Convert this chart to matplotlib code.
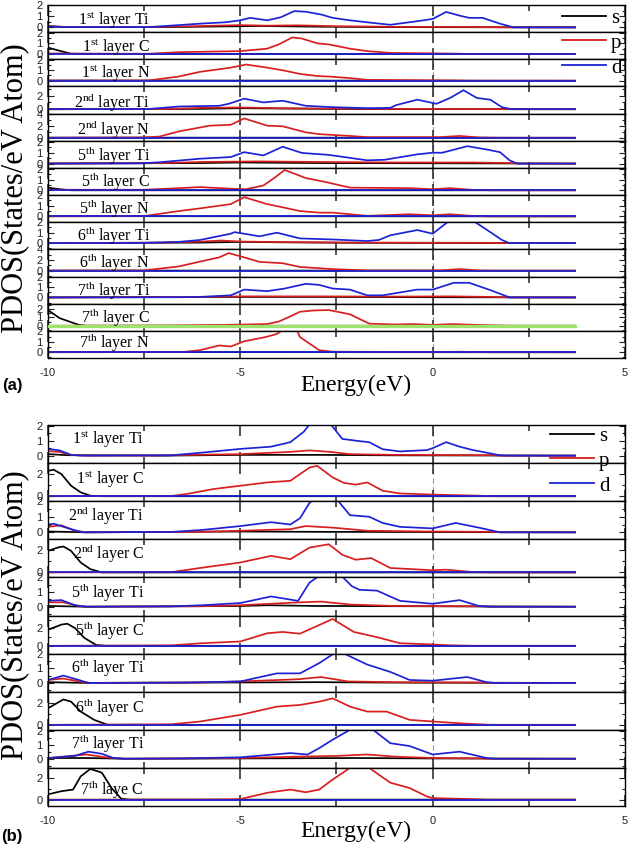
import matplotlib
matplotlib.use('Agg')
import matplotlib.pyplot as plt
from matplotlib.lines import Line2D
from matplotlib.ticker import MultipleLocator

plt.rcParams['font.family'] = 'Liberation Sans'
plt.rcParams['mathtext.fontset'] = 'custom'
plt.rcParams['mathtext.rm'] = 'Liberation Serif'
plt.rcParams['axes.unicode_minus'] = False

# ---------------- data: (energy eV, PDOS) knots ----------------
flat = [(-10, 0), (3.7, 0)]

# panel (a)
a1_s = [(-10, 0.08), (-9.5, 0.02), (-7, 0.02), (-5.5, 0.08), (-4.5, 0.12), (-3, 0.06), (-1, 0.02), (3.7, 0)]
a1_p = [(-10, 0.12), (-9.5, 0.03), (-7.5, 0.02), (-6, 0.12), (-5, 0.2), (-4.3, 0.15), (-3.5, 0.18), (-2.5, 0.1),
        (-1, 0.05), (1, 0.03), (2, 0), (3.7, 0)]
a1_d = [(-10, 0.1), (-9.6, 0.02), (-7.4, 0.02), (-6.6, 0.2), (-6.05, 0.33), (-5.4, 0.45), (-5.0, 0.63), (-4.75, 0.85),
        (-4.3, 0.63), (-3.95, 0.9), (-3.6, 1.45), (-3.3, 1.4), (-2.9, 1.15), (-2.6, 0.85), (-2.2, 0.65), (-1.7, 0.45),
        (-1.1, 0.23), (-0.4, 0.55), (0, 0.75), (0.35, 1.38), (0.7, 1.05), (0.95, 0.85), (1.3, 0.85), (1.75, 0.33),
        (2.1, 0), (3.7, 0)]

a2_s = [(-10, 0.6), (-9.8, 0.4), (-9.4, 0.02), (-9, 0), (3.7, 0)]
a2_p = [(-10, 0.05), (-7.4, 0.02), (-6.6, 0.17), (-5.0, 0.27), (-4.3, 0.5), (-4.0, 0.9), (-3.65, 1.55), (-3.4, 1.45),
        (-3.0, 1.0), (-2.7, 0.9), (-2.15, 0.5), (-1.7, 0.27), (-1.1, 0.1), (0.5, 0.04), (1, 0), (3.7, 0)]
a2_d = flat

a3_s = [(-10, 0.02), (3.7, 0)]
a3_p = [(-10, 0), (-7.4, 0.02), (-6.6, 0.4), (-6.05, 0.85), (-5.25, 1.25), (-4.85, 1.55), (-4.3, 1.25), (-3.9, 1.0),
        (-3.45, 0.65), (-3.0, 0.45), (-2.7, 0.4), (-2.15, 0.25), (-1.7, 0.08), (0.5, 0.03), (1, 0), (3.7, 0)]
a3_d = flat

a4_s = [(-10, 0), (-6, 0.05), (-5, 0.15), (-4, 0.1), (-2, 0.03), (3.7, 0)]
a4_p = [(-10, 0), (-7, 0.03), (-6, 0.2), (-5, 0.25), (-4, 0.15), (-3, 0.1), (-1, 0.05), (1.5, 0.02), (2, 0), (3.7, 0)]
a4_d = [(-10, 0), (-7.4, 0.02), (-6.6, 0.4), (-5.55, 0.5), (-5.3, 0.8), (-4.9, 1.55), (-4.4, 1.0), (-3.9, 1.25),
        (-3.3, 0.5), (-2.6, 0.3), (-1.7, 0.15), (-1.1, 0.2), (-0.95, 0.6), (-0.4, 1.4), (0.1, 0.8), (0.45, 1.65),
        (0.8, 2.8), (1.15, 1.65), (1.5, 1.4), (1.8, 0.3), (2.05, 0), (3.7, 0)]

a5_s = [(-10, 0.02), (3.7, 0)]
a5_p = [(-10, 0), (-7.5, 0.05), (-7.1, 0.2), (-6.6, 1.05), (-5.8, 2.0), (-5.25, 2.15), (-4.9, 3.2), (-4.3, 2.0),
        (-3.9, 1.9), (-3.3, 0.9), (-2.95, 0.6), (-2.15, 0.3), (-1.7, 0.1), (0.2, 0.1), (0.7, 0.3), (1.2, 0.05),
        (1.8, 0), (3.7, 0)]
a5_d = flat

a6_s = [(-10, 0), (-6, 0.05), (-5, 0.1), (-3, 0.05), (3.7, 0)]
a6_p = [(-10, 0.02), (-7, 0.05), (-6, 0.15), (-4.5, 0.2), (-3, 0.15), (-1, 0.1), (1, 0.1), (2, 0.05), (2.3, 0), (3.7, 0)]
a6_d = [(-10, 0), (-7.6, 0.02), (-7.1, 0.12), (-6.05, 0.45), (-5.25, 0.6), (-4.9, 1.05), (-4.4, 0.75), (-3.9, 1.55),
        (-3.4, 0.98), (-2.7, 0.8), (-2.3, 0.6), (-1.7, 0.3), (-1.25, 0.35), (-0.4, 0.85), (0, 1.0), (0.25, 1.0),
        (0.9, 1.6), (1.4, 1.3), (1.75, 1.05), (2.0, 0.3), (2.2, 0), (3.7, 0)]

a7_s = [(-10, 0.25), (-9.7, 0.1), (-9.4, 0), (3.7, 0)]
a7_p = [(-10, 0.05), (-7.5, 0.05), (-6.6, 0.2), (-6.05, 0.3), (-5.25, 0.15), (-4.85, 0.1), (-4.4, 0.45), (-4.1, 1.2),
        (-3.85, 1.9), (-3.55, 1.5), (-3.3, 1.15), (-2.95, 0.9), (-2.75, 0.75), (-2.15, 0.25), (-0.6, 0.2), (0, 0.1),
        (0.45, 0.2), (1.0, 0.05), (1.5, 0), (3.7, 0)]
a7_d = flat

a8_s = [(-10, 0.02), (3.7, 0)]
a8_p = [(-10, 0), (-7.5, 0.03), (-6.6, 0.5), (-6.05, 0.75), (-5.25, 1.15), (-4.9, 1.8), (-4.3, 1.15), (-3.9, 0.85),
        (-3.45, 0.5), (-2.95, 0.35), (-2.6, 0.35), (-1.7, 0.05), (-0.6, 0.2), (0, 0.1), (0.45, 0.2), (1.0, 0.05),
        (1.5, 0), (3.7, 0)]
a8_d = flat

a9_s = [(-10, 0), (-6, 0.05), (-5, 0.12), (-4, 0.08), (-2, 0.03), (3.7, 0)]
a9_p = [(-10, 0), (-7, 0.05), (-6, 0.15), (-5.5, 0.25), (-5, 0.15), (-4, 0.1), (-2, 0.05), (1.5, 0.03), (2, 0), (3.7, 0)]
a9_d = [(-10, 0), (-7.5, 0.02), (-6.6, 0.12), (-6.05, 0.3), (-5.25, 0.9), (-5.15, 1.05), (-4.5, 0.65), (-4.05, 1.0),
        (-3.45, 0.45), (-2.6, 0.35), (-1.7, 0.2), (-1.4, 0.3), (-1.1, 0.75), (-0.4, 1.25), (0, 0.9), (0.35, 1.9),
        (0.6, 2.6), (0.9, 2.6), (1.15, 1.9), (1.5, 1.05), (1.8, 0.3), (2.0, 0), (3.7, 0)]

a10_s = [(-10, 0.02), (3.7, 0)]
a10_p = [(-10, 0), (-7.5, 0.05), (-6.6, 0.8), (-6.05, 1.7), (-5.55, 2.5), (-5.3, 3.3), (-4.9, 2.5), (-4.5, 1.65),
         (-3.9, 1.4), (-3.45, 0.7), (-2.6, 0.3), (-1.7, 0.05), (0.2, 0.05), (0.7, 0.3), (1.2, 0.05), (1.5, 0), (3.7, 0)]
a10_d = flat

a11_s = [(-10, 0), (-5, 0.05), (-3, 0.05), (0, 0.02), (3.7, 0)]
a11_p = [(-10, 0), (-6, 0.05), (-5, 0.1), (-3, 0.1), (-1, 0.08), (0.5, 0.1), (1.5, 0.05), (2, 0), (3.7, 0)]
a11_d = [(-10, 0), (-6.5, 0.02), (-6.05, 0.05), (-5.25, 0.2), (-4.9, 0.75), (-4.3, 0.6), (-3.85, 0.85), (-3.3, 1.3),
         (-2.95, 1.2), (-2.6, 0.85), (-2.15, 0.75), (-1.7, 0.2), (-1.3, 0.2), (-0.4, 0.75), (0, 0.75), (0.55, 1.4),
         (0.95, 1.4), (1.5, 0.7), (2.0, 0), (3.7, 0)]

a12_s = [(-10, 1.85), (-9.7, 0.9), (-9.2, 0.1), (-9, 0), (3.7, 0)]
a12_p = [(-10, 0), (-7, 0.03), (-5.5, 0.1), (-4.3, 0.2), (-4.0, 0.5), (-3.7, 1.1), (-3.45, 1.65), (-3.1, 1.8),
         (-2.7, 1.85), (-2.15, 1.35), (-1.65, 0.25), (-1.0, 0.15), (-0.5, 0.2), (0, 0.1), (0.5, 0.2), (1.5, 0.05),
         (2, 0), (3.7, 0)]
a12_d = flat

a13_s = [(-10, 0.02), (3.7, 0)]
a13_p = [(-10, 0), (-6.5, 0.02), (-6.05, 0.2), (-5.55, 0.65), (-5.25, 0.55), (-4.9, 1.05), (-4.35, 1.45),
         (-4.05, 1.75), (-3.75, 2.5), (-3.55, 2.3), (-3.45, 1.45), (-2.95, 0.2), (-2.6, 0.05), (0.2, 0.03),
         (0.7, 0.05), (1.5, 0), (3.7, 0)]
a13_d = flat

# panel (b)
b1_s = [(-10, 0.1), (-9.5, 0.03), (-7, 0), (-5, 0.05), (-3, 0.05), (-1, 0.02), (3.7, 0)]
b1_p = [(-10, 0.3), (-9.7, 0.25), (-9.4, 0.05), (-9, 0), (-7, 0.02), (-5, 0.1), (-3.7, 0.25), (-3.2, 0.35),
        (-2.65, 0.25), (-2.15, 0.1), (-1, 0.05), (1.5, 0.03), (1.8, 0), (3.7, 0)]
b1_d = [(-10, 0.45), (-9.7, 0.35), (-9.4, 0.05), (-9.15, 0), (-6.8, 0.02), (-6, 0.2), (-5.0, 0.45), (-4.2, 0.6),
        (-3.7, 0.9), (-3.35, 1.6), (-3.2, 2.1), (-2.95, 2.6), (-2.65, 2.1), (-2.35, 1.12), (-1.9, 0.97),
        (-1.65, 0.9), (-1.3, 0.43), (-0.85, 0.28), (-0.15, 0.37), (0, 0.5), (0.35, 0.9), (0.7, 0.6), (1.0, 0.4),
        (1.75, 0.02), (2.0, 0), (3.7, 0)]

b2_s = [(-10, 2.3), (-9.85, 2.4), (-9.65, 2.0), (-9.4, 0.95), (-9.15, 0.35), (-8.9, 0.05), (-8.6, 0), (3.7, 0)]
b2_p = [(-10, 0), (-6.8, 0.02), (-6.4, 0.2), (-5.7, 0.65), (-5.0, 0.95), (-4.3, 1.25), (-3.7, 1.4), (-3.45, 2.0),
        (-3.2, 2.6), (-3.0, 2.75), (-2.6, 1.7), (-2.3, 1.2), (-2.0, 1.05), (-1.7, 1.25), (-1.3, 0.5), (-0.85, 0.25),
        (0, 0.15), (1.2, 0.05), (1.6, 0), (3.7, 0)]
b2_d = flat

b3_s = [(-10, 0.05), (-9, 0), (-5, 0.05), (-3, 0.03), (3.7, 0)]
b3_p = [(-10, 0.35), (-9.65, 0.45), (-9.3, 0.1), (-9, 0), (-6, 0.03), (-5, 0.1), (-3.7, 0.2), (-3.3, 0.4),
        (-2.6, 0.3), (-1.7, 0.1), (0, 0.05), (1.5, 0.03), (1.8, 0), (3.7, 0)]
b3_d = [(-10, 0.5), (-9.85, 0.55), (-9.4, 0.2), (-9.1, 0), (-6.8, 0.02), (-6, 0.15), (-5.0, 0.4), (-4.2, 0.65),
        (-3.7, 0.5), (-3.45, 0.9), (-3.2, 1.9), (-3.0, 2.3), (-2.75, 2.4), (-2.45, 2.0), (-2.15, 1.1), (-1.65, 1.0),
        (-1.3, 0.6), (-0.85, 0.35), (0, 0.25), (0.6, 0.6), (1.2, 0.3), (1.75, 0), (3.7, 0)]

b4_s = [(-10, 1.95), (-9.75, 2.25), (-9.6, 2.35), (-9.4, 1.95), (-9.15, 0.9), (-8.9, 0.3), (-8.6, 0), (3.7, 0)]
b4_p = [(-10, 0), (-6.8, 0.02), (-6.05, 0.4), (-5.0, 0.9), (-4.2, 1.5), (-3.7, 1.2), (-3.2, 2.25), (-2.7, 2.55),
        (-2.35, 1.6), (-2.0, 1.15), (-1.6, 1.3), (-1.1, 0.4), (0, 0.2), (0.35, 0.25), (1.0, 0.05), (1.5, 0), (3.7, 0)]
b4_d = flat

b5_s = [(-10, 0.05), (-9, 0), (-5, 0.05), (-4.3, 0.1), (-3, 0.05), (3.7, 0)]
b5_p = [(-10, 0.3), (-9.6, 0.3), (-9.2, 0.05), (-9, 0), (-6, 0.03), (-5, 0.1), (-3.45, 0.3), (-2.9, 0.35),
        (-2.15, 0.15), (-1, 0.05), (1.2, 0.03), (1.5, 0), (3.7, 0)]
b5_d = [(-10, 0.4), (-9.65, 0.45), (-9.3, 0.1), (-9.0, 0), (-6.8, 0.02), (-6, 0.1), (-5.0, 0.25), (-4.2, 0.7),
        (-3.5, 0.4), (-3.2, 1.65), (-2.95, 2.1), (-2.65, 2.4), (-2.33, 2.0), (-2.1, 1.4), (-1.9, 1.15), (-1.45, 1.1),
        (-0.85, 0.4), (0, 0.2), (0.7, 0.45), (1.2, 0.05), (1.5, 0), (3.7, 0)]

b6_s = [(-10, 1.85), (-9.65, 2.45), (-9.5, 2.55), (-9.3, 2.05), (-9.05, 0.9), (-8.75, 0.1), (-8.5, 0), (3.7, 0)]
b6_p = [(-10, 0), (-6.8, 0.05), (-6, 0.3), (-5.0, 0.5), (-4.3, 1.45), (-3.9, 1.6), (-3.45, 1.4), (-3.0, 2.3),
        (-2.6, 3.1), (-2.05, 1.6), (-1.45, 1.0), (-0.85, 0.3), (0, 0.15), (0.5, 0.05), (1, 0), (3.7, 0)]
b6_d = flat

b7_s = [(-10, 0.05), (-9, 0), (-5, 0.03), (-3, 0.05), (-1, 0.02), (3.7, 0)]
b7_p = [(-10, 0.2), (-9.6, 0.3), (-9.2, 0.1), (-8.9, 0), (-6, 0.03), (-5, 0.1), (-3.5, 0.25), (-2.9, 0.4),
        (-2.2, 0.1), (-1, 0.05), (1.2, 0.03), (1.5, 0), (3.7, 0)]
b7_d = [(-10, 0.2), (-9.6, 0.5), (-9.2, 0.2), (-8.95, 0), (-6.5, 0.02), (-5, 0.1), (-4.05, 0.65), (-3.45, 0.65),
        (-2.95, 1.35), (-2.6, 1.95), (-2.45, 2.1), (-2.3, 2.0), (-1.7, 1.25), (-1.1, 0.75), (-0.6, 0.2), (0, 0.15),
        (0.9, 0.4), (1.4, 0.05), (1.6, 0), (3.7, 0)]

b8_s = [(-10, 1.5), (-9.6, 2.3), (-9.4, 2.1), (-9.15, 1.2), (-8.8, 0.45), (-8.45, 0), (3.7, 0)]
b8_p = [(-10, 0), (-6.8, 0.05), (-6.05, 0.3), (-5.0, 0.9), (-4.05, 1.65), (-3.45, 1.8), (-2.95, 2.1), (-2.6, 2.4),
        (-2.15, 1.65), (-1.7, 1.2), (-1.2, 1.2), (-0.6, 0.45), (0, 0.3), (0.9, 0.1), (1.5, 0), (3.7, 0)]
b8_d = flat

b9_s = [(-10, 0.05), (-9, 0.05), (-8, 0), (-5, 0.02), (-2, 0.05), (0, 0.02), (3.7, 0)]
b9_p = [(-10, 0.05), (-9.0, 0.3), (-8.5, 0.1), (-8, 0), (-5, 0.05), (-3.45, 0.15), (-2.5, 0.2), (-1.7, 0.3),
        (-1.0, 0.15), (0, 0.05), (1.2, 0.03), (1.5, 0), (3.7, 0)]
b9_d = [(-10, 0.05), (-9.3, 0.2), (-8.95, 0.5), (-8.6, 0.35), (-8.3, 0.05), (-8.0, 0), (-6.5, 0.02), (-5.0, 0.1),
        (-3.7, 0.4), (-3.25, 0.3), (-2.95, 0.75), (-2.6, 1.35), (-2.15, 2.05), (-1.9, 2.5), (-1.55, 2.05),
        (-1.1, 1.1), (-0.6, 0.9), (0, 0.3), (0.7, 0.5), (1.4, 0.05), (1.6, 0), (3.7, 0)]

b10_s = [(-10, 0.5), (-9.65, 0.8), (-9.35, 0.95), (-9.15, 2.2), (-8.9, 2.9), (-8.6, 2.55), (-8.35, 1.1),
         (-8.1, 0.1), (-7.9, 0), (3.7, 0)]
b10_p = [(-10, 0), (-5.5, 0.02), (-5.0, 0.05), (-4.3, 0.65), (-3.7, 0.95), (-3.3, 0.7), (-2.95, 0.95), (-2.6, 1.9),
         (-2.15, 3.0), (-1.9, 3.4), (-1.65, 3.0), (-1.1, 1.6), (-0.6, 1.1), (-0.15, 0.3), (0, 0.15), (1.0, 0.05),
         (1.5, 0), (3.7, 0)]
b10_d = flat

a_names = ['1$^{\\rm st}$ layer Ti', '1$^{\\rm st}$ layer C', '1$^{\\rm st}$ layer N',
           '2$^{\\rm nd}$ layer Ti', '2$^{\\rm nd}$ layer N', '5$^{\\rm th}$ layer Ti',
           '5$^{\\rm th}$ layer C', '5$^{\\rm th}$ layer N', '6$^{\\rm th}$ layer Ti',
           '6$^{\\rm th}$ layer N', '7$^{\\rm th}$ layer Ti', '7$^{\\rm th}$ layer C',
           '7$^{\\rm th}$ layer N']
b_names = ['1$^{\\rm st}$ layer Ti', '1$^{\\rm st}$ layer C', '2$^{\\rm nd}$ layer Ti',
           '2$^{\\rm nd}$ layer C', '5$^{\\rm th}$ layer Ti', '5$^{\\rm th}$ layer C',
           '6$^{\\rm th}$ layer Ti', '6$^{\\rm th}$ layer C', '7$^{\\rm th}$ layer Ti',
           '7$^{\\rm th}$ laye C']

a_s = [a1_s, a2_s, a3_s, a4_s, a5_s, a6_s, a7_s, a8_s, a9_s, a10_s, a11_s, a12_s, a13_s]
a_p = [a1_p, a2_p, a3_p, a4_p, a5_p, a6_p, a7_p, a8_p, a9_p, a10_p, a11_p, a12_p, a13_p]
a_d = [a1_d, a2_d, a3_d, a4_d, a5_d, a6_d, a7_d, a8_d, a9_d, a10_d, a11_d, a12_d, a13_d]
b_s = [b1_s, b2_s, b3_s, b4_s, b5_s, b6_s, b7_s, b8_s, b9_s, b10_s]
b_p = [b1_p, b2_p, b3_p, b4_p, b5_p, b6_p, b7_p, b8_p, b9_p, b10_p]
b_d = [b1_d, b2_d, b3_d, b4_d, b5_d, b6_d, b7_d, b8_d, b9_d, b10_d]

# axis ranges / tick steps per panel
a_ylim = [(-0.43, 2.0), (-0.5, 2.05), (-0.55, 2.05), (-0.65, 3.35), (-0.5, 4.0), (-0.4, 2.1), (-0.45, 2.1),
          (-0.55, 2.0), (-0.6, 2.0), (-1.1, 4.0), (-0.6, 2.0), (-0.6, 2.6), (-0.55, 2.05)]
a_ystep = [1, 1, 1, 2, 2, 1, 1, 1, 1, 2, 1, 1, 1]
b_ylim = [(-0.5, 2.05), (-0.45, 3.0), (-0.45, 2.0), (-0.45, 3.0), (-0.6, 2.0), (-0.9, 3.5), (-0.6, 2.0),
          (-0.45, 3.0), (-0.65, 2.05), (-0.6, 3.0)]
b_ystep = [1, 2, 1, 2, 1, 2, 1, 2, 1, 2]

# ---------------- styling ----------------
S_COL = 'black'
P_COL = '#d81e1e'
D_COL = '#1c22d4'
G_COL = '#9be36d'
FERMI = '#d070f0'
SERIF = 'Liberation Serif'

a_text_y = [0.26, 0.28, 0.32, 0.21, 0.22, 0.24, 0.3, 0.3, 0.3, 0.32, 0.3, 0.3, 0.35]
b_text_y = [0.49, 0.45, 0.48, 0.47, 0.47, 0.45, 0.49, 0.44, 0.49, 0.29]

W, H = 631.0, 846.0
fig = plt.figure(figsize=(6.31, 8.46), dpi=100)


def line(ax, pts, color, lw=1.25, z=2):
    e = [q[0] for q in pts]
    v = [q[1] for q in pts]
    ax.plot(e, v, color=color, lw=lw, zorder=z, solid_joinstyle='round')


def block(top, bot, s_list, p_list, d_list, names, ylims, steps, text_y, text_x, fermi_from, fermi_to, green=None):
    n = len(names)
    h = (bot - top) / n
    axs = []
    for i in range(n):
        ax = fig.add_axes([48 / W, 1 - (top + (i + 1) * h) / H, (625 - 48) / W, h / H])
        ax.set_xlim(-10, 5)
        ax.set_ylim(*ylims[i])
        if fermi_from <= i <= fermi_to:
            ax.axvline(0, color=FERMI, lw=0.8, ls=(0, (5, 3)), zorder=1.5)
        line(ax, s_list[i], S_COL)
        line(ax, p_list[i], P_COL)
        if green is not None and i == green:
            line(ax, d_list[i], G_COL, lw=2.4, z=3)
        else:
            line(ax, d_list[i], D_COL)
        ax.text(text_x, text_y[i], names[i], transform=ax.get_xaxis_transform(), ha='right', va='baseline',
                fontsize=11.5, family=SERIF)
        ax.xaxis.set_major_locator(MultipleLocator(5))
        ax.xaxis.set_minor_locator(MultipleLocator(2.5))
        ax.yaxis.set_major_locator(MultipleLocator(steps[i]))
        ax.yaxis.set_minor_locator(MultipleLocator(steps[i] / 2))
        ax.tick_params(which='both', direction='in', top=True, right=True, labelsize=8, colors='#222222')
        ax.tick_params(axis='x', which='major', length=8, width=1.1, pad=7)
        ax.tick_params(axis='x', which='minor', length=4.5, width=1.1)
        ax.tick_params(axis='y', which='major', length=4, width=0.8, pad=4)
        ax.tick_params(axis='y', which='minor', length=2.5, width=0.8)
        if i < n - 1:
            ax.tick_params(axis='x', labelbottom=False)
        for sp in ax.spines.values():
            sp.set_linewidth(1.0)
        axs.append(ax)
    return axs


block(5, 358, a_s, a_p, a_d, a_names, a_ylim, a_ystep, a_text_y, -7.35, 2, 12, green=11)
block(425, 806, b_s, b_p, b_d, b_names, b_ylim, b_ystep, b_text_y, -7.5, 0, 8)

# axis titles and panel letters
for yc in (188, 615):
    fig.text(15 / W, 1 - yc / H, 'PDOS(States/eV Atom)', rotation=90, ha='center', va='center',
             fontsize=22, family=SERIF)
for yc in (385, 831):
    fig.text(356 / W, 1 - yc / H, 'Energy(eV)', ha='center', va='center', fontsize=17, family=SERIF)
fig.text(12 / W, 1 - 385 / H, '(a)', ha='center', va='center', fontsize=12, fontweight='bold')
fig.text(12 / W, 1 - 836 / H, '(b)', ha='center', va='center', fontsize=12, fontweight='bold')

handles = [Line2D([], [], color=S_COL, lw=1.3), Line2D([], [], color=P_COL, lw=1.3),
           Line2D([], [], color=D_COL, lw=1.3)]
for xl, yc in ((562, 43), (550, 461)):
    fig.legend(handles, ['s', 'p', 'd'], loc='center left', bbox_to_anchor=(xl / W, 1 - yc / H),
               frameon=False, prop={'family': SERIF, 'size': 15}, handlelength=2.1, handletextpad=0.25,
               labelspacing=0.25, borderpad=0, borderaxespad=0)

fig.savefig('out.png', dpi=100)
